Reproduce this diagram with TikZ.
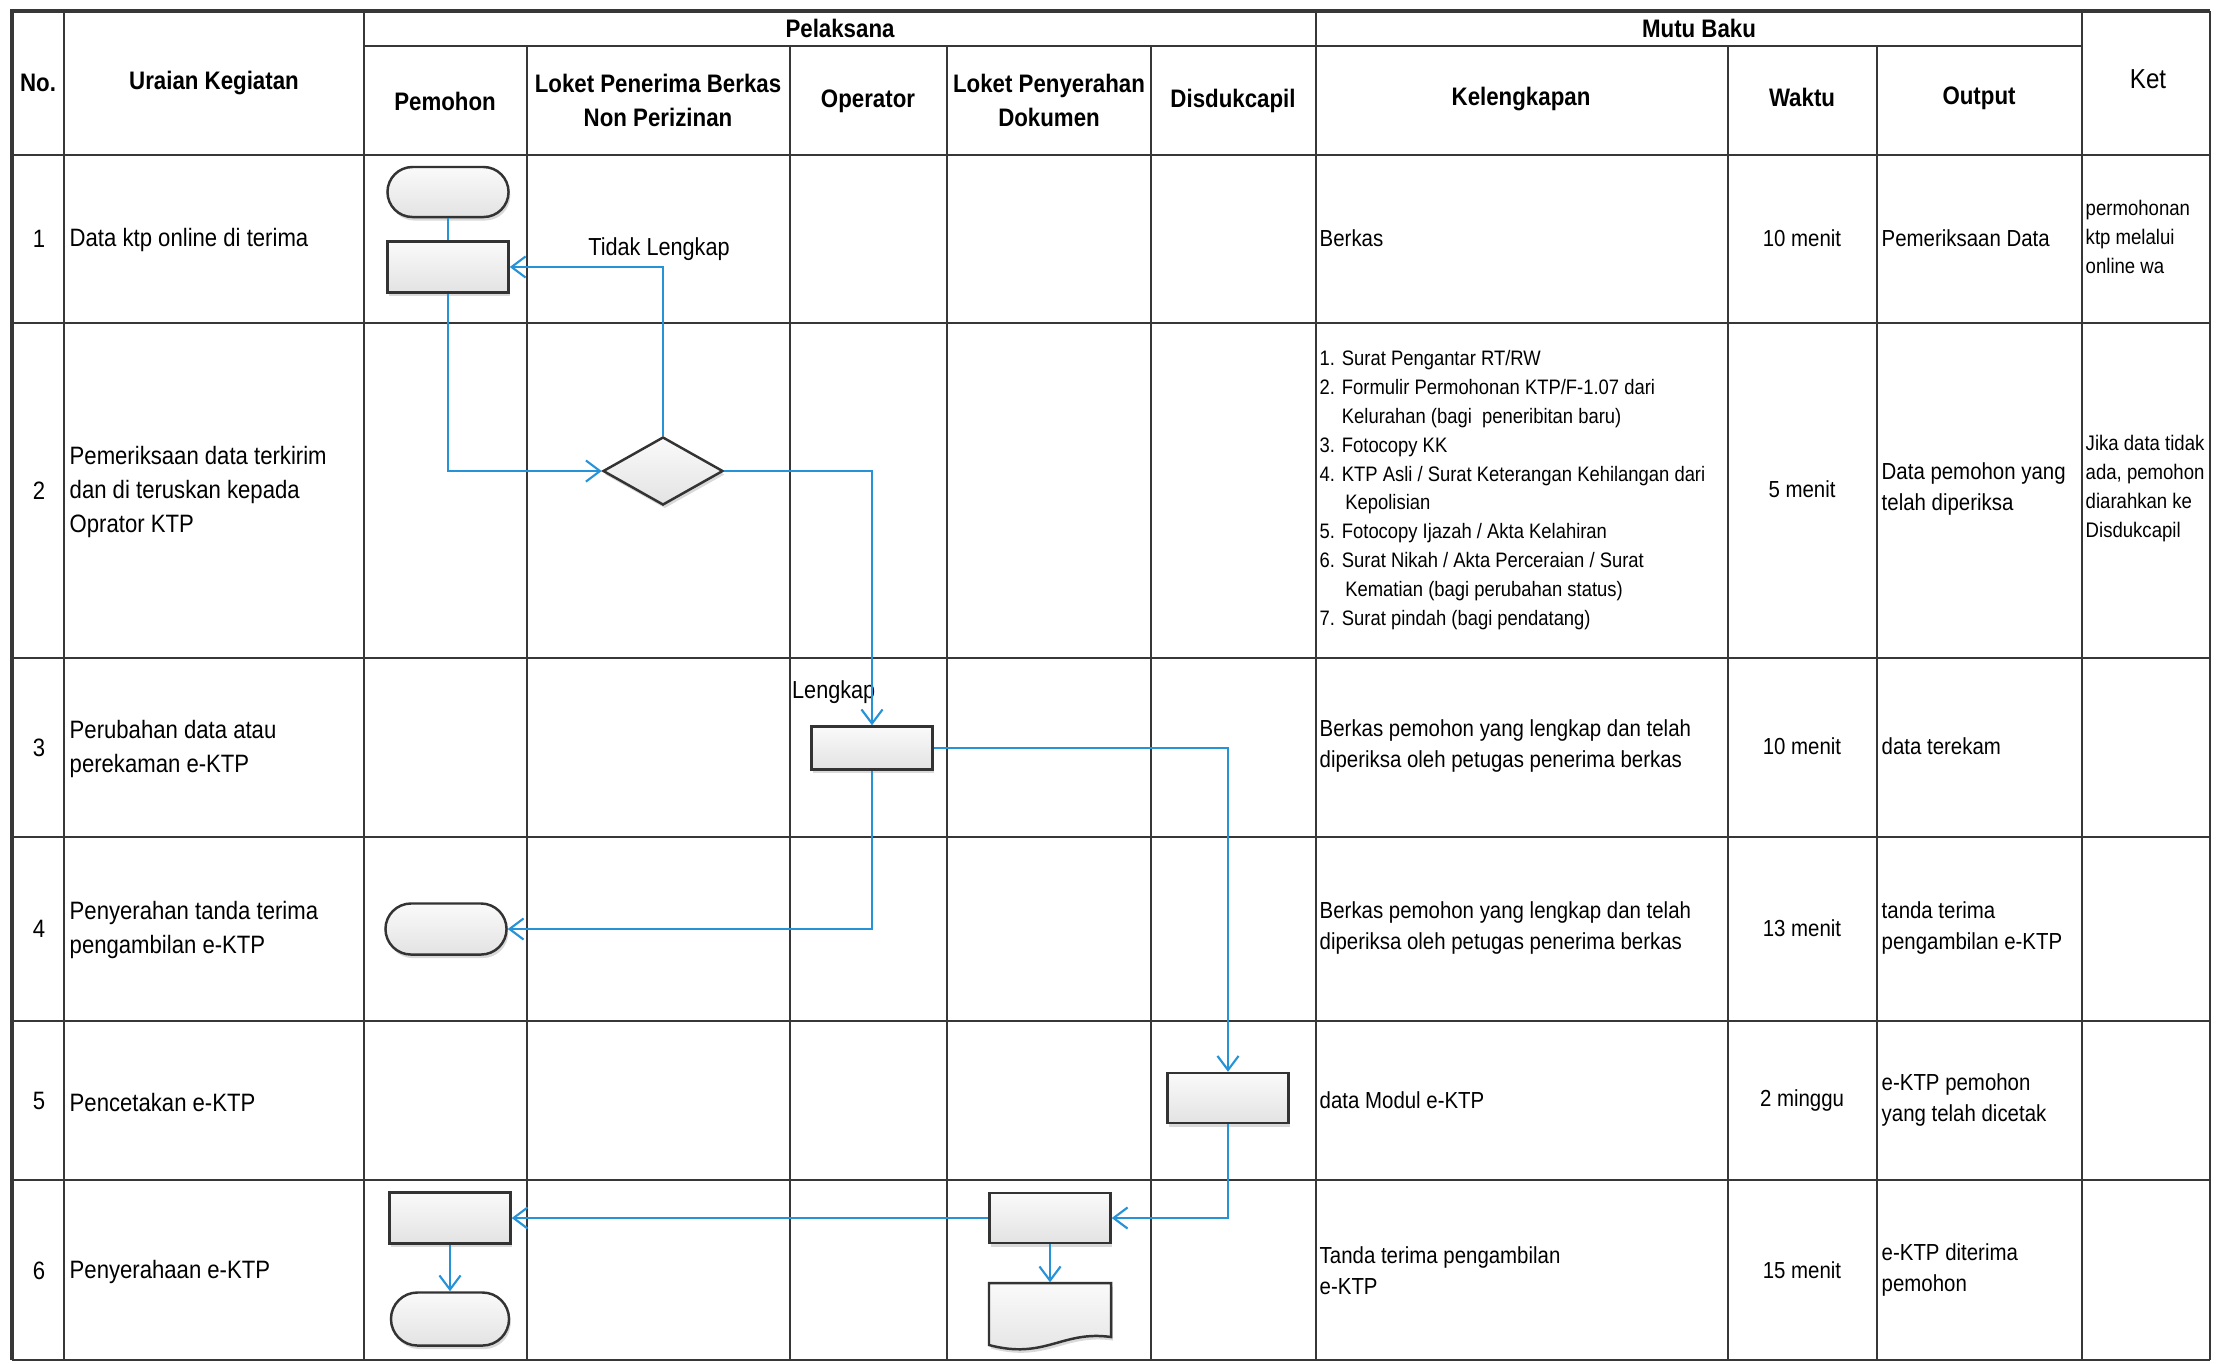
\documentclass[tikz,border=0pt]{standalone}
\usepackage{fontspec}
\setmainfont{Liberation Sans}[FakeStretch=0.88]
\usetikzlibrary{shapes.geometric,shapes.misc,arrows.meta,shadows}
\definecolor{flowblue}{RGB}{38,146,216}
\definecolor{gridgray}{RGB}{55,55,55}
\newcommand{\actfont}{\fontsize{7.15pt}{9.7pt}\selectfont}
\newcommand{\headfont}{\bfseries\fontsize{7.2pt}{9.7pt}\selectfont}
\newcommand{\listfont}{\fontsize{5.95pt}{8.2pt}\selectfont}
\newcommand{\mutufont}{\fontsize{6.6pt}{8.8pt}\selectfont}
\newcommand{\ketfont}{\fontsize{6pt}{8.25pt}\selectfont}
\newcommand{\lblfont}{\fontsize{7pt}{9pt}\selectfont}
\newcommand{\ketheadfont}{\fontsize{7.8pt}{9pt}\selectfont}
\begin{document}
\begin{tikzpicture}[x=0.01cm, y=-0.01cm,
    tabline/.style={draw=gridgray, line width=0.6pt},
    outline/.style={draw=gridgray, line width=1.1pt},
    head/.style={font=\headfont, align=center, inner sep=0pt},
    num/.style={font=\actfont, inner sep=0pt},
    act/.style={font=\actfont, anchor=west, align=left, inner sep=0pt},
    kel/.style={font=\mutufont, anchor=west, align=left, inner sep=0pt},
    kellist/.style={font=\listfont, anchor=west, align=left, inner sep=0pt},
    waktu/.style={font=\mutufont, inner sep=0pt},
    ket/.style={font=\ketfont, anchor=west, align=left, inner sep=0pt},
    lbl/.style={font=\lblfont, inner sep=0pt},
    gfill/.style={draw=black!80, line width=0.7pt, top color=gray!4, bottom color=gray!22,
      drop shadow={opacity=0.3, shadow xshift=0.5pt, shadow yshift=-1pt}},
    box/.style={gfill, inner sep=0pt, minimum width=1.21cm, minimum height=0.5cm},
    proc/.style={box, rectangle},
    term/.style={box, rounded rectangle},
    decision/.style={box, diamond, minimum width=1.2cm, minimum height=0.68cm},
    flow/.style={draw=flowblue, line width=0.6pt},
    flowarr/.style={flow, -{Straight Barb[length=4pt, width=6pt]}}
  ]
  \useasboundingbox (0,0) rectangle (2216,1363);

  \foreach \y in {155,323,658,837,1021,1180,1360}
    \draw[tabline] (12,\y) -- (2210,\y);
  \draw[tabline] (364,46) -- (2082,46);
  \foreach \x in {64,364,1316,2082,2210}
    \draw[tabline] (\x,11) -- (\x,1360);
  \foreach \x in {527,790,947,1151,1728,1877}
    \draw[tabline] (\x,46) -- (\x,1360);
  \draw[outline] (12,1360) -- (12,11) -- (2210,11);

  \node[head] (hno) at (38,83) {No.};
  \node[head] (hura) at (214,83) {Uraian Kegiatan};
  \node[head] (hpel) at (840,28) {Pelaksana};
  \node[head] (hmutu) at (1699,28) {Mutu Baku};
  \node[head, font=\ketheadfont] (hket) at (2148,79) {Ket};
  \node[head] (hpem) at (445,101) {Pemohon};
  \node[head] (hlok) at (658,100) {Loket Penerima Berkas\\Non Perizinan};
  \node[head] (hop) at (868,101) {Operator};
  \node[head] (hpeny) at (1049,100) {Loket Penyerahan\\Dokumen};
  \node[head] (hdis) at (1233,101) {Disdukcapil};
  \node[head] (hkel) at (1521,99) {Kelengkapan};
  \node[head] (hwak) at (1802,97) {Waktu};
  \node[head] (hout) at (1979,98) {Output};

  \node[num] (n1) at (39,239) {1};
  \node[num] (n2) at (39,491) {2};
  \node[num] (n3) at (39,748) {3};
  \node[num] (n4) at (39,929) {4};
  \node[num] (n5) at (39,1101) {5};
  \node[num] (n6) at (39,1271) {6};

  \node[act] (a1) at (69,240) {Data ktp online di terima};
  \node[act] (a2) at (69,492) {Pemeriksaan data terkirim\\dan di teruskan kepada\\Oprator KTP};
  \node[act] (a3) at (69,749) {Perubahan data atau\\perekaman e-KTP};
  \node[act] (a4) at (69,930) {Penyerahan tanda terima\\pengambilan e-KTP};
  \node[act] (a5) at (69,1102) {Pencetakan e-KTP};
  \node[act] (a6) at (69,1272) {Penyerahaan e-KTP};

  \node[kel] (k1) at (1319,238) {Berkas};
  \node[kellist] (k2) at (1319,490) {1. Surat Pengantar RT/RW\\
    2. Formulir Permohonan KTP/F-1.07 dari\\
    \phantom{2. }Kelurahan (bagi\ \ peneribitan baru)\\
    3. Fotocopy KK\\
    4. KTP Asli / Surat Keterangan Kehilangan dari\\
    \phantom{4. }\,Kepolisian\\
    5. Fotocopy Ijazah / Akta Kelahiran\\
    6. Surat Nikah / Akta Perceraian / Surat\\
    \phantom{6. }\,Kematian (bagi perubahan status)\\
    7. Surat pindah (bagi pendatang)};
  \node[kel] (k3) at (1319,746) {Berkas pemohon yang lengkap dan telah\\diperiksa oleh petugas penerima berkas};
  \node[kel] (k4) at (1319,928) {Berkas pemohon yang lengkap dan telah\\diperiksa oleh petugas penerima berkas};
  \node[kel] (k5) at (1319,1100) {data Modul e-KTP};
  \node[kel] (k6) at (1319,1271) {Tanda terima pengambilan\\e-KTP};

  \node[waktu] (w1) at (1802,238) {10 menit};
  \node[waktu] (w2) at (1802,489) {5 menit};
  \node[waktu] (w3) at (1802,746) {10 menit};
  \node[waktu] (w4) at (1802,928) {13 menit};
  \node[waktu] (w5) at (1802,1100) {2 minggu};
  \node[waktu] (w6) at (1802,1270) {15 menit};

  \node[kel] (o1) at (1881,238) {Pemeriksaan Data};
  \node[kel] (o2) at (1881,489) {Data pemohon yang\\telah diperiksa};
  \node[kel] (o3) at (1881,746) {data terekam};
  \node[kel] (o4) at (1881,928) {tanda terima\\pengambilan e-KTP};
  \node[kel] (o5) at (1881,1100) {e-KTP pemohon\\yang telah dicetak};
  \node[kel] (o6) at (1881,1270) {e-KTP diterima\\pemohon};

  \node[ket] (c1) at (2085,237) {permohonan\\ktp melalui\\online wa};
  \node[ket] (c2) at (2085,489) {Jika data tidak\\ada, pemohon\\diarahkan ke\\Disdukcapil};

  \node[term] (t1) at (448,192) {};
  \node[proc, minimum height=0.51cm] (r1) at (448,267) {};
  \node[decision] (dec) at (663,471) {};
  \node[proc, minimum height=0.43cm] (op) at (872,748) {};
  \node[term, minimum height=0.51cm] (t4) at (446,929) {};
  \node[proc] (dis) at (1228,1098) {};
  \node[proc] (lok) at (1050,1218) {};
  \node[proc, minimum height=0.51cm] (r6) at (450,1218) {};
  \node[term, minimum width=1.18cm, minimum height=0.53cm] (t6) at (450,1319) {};
  \node[inner sep=0pt, minimum width=1.21cm, minimum height=0.66cm] (doc) at (1050,1316) {};
  \path[gfill] (989,1283) -- (1111,1283) -- (1111,1337)
    .. controls (1062,1330) and (1045,1360) .. (989,1345) -- cycle;

  \node[lbl] (tl) at (659,249) {Tidak Lengkap};
  \node[lbl, anchor=east] (lk) at (876,692) {Lengkap};

  \draw[flow] (t1.south) -- (r1.north);
  \draw[flowarr] (r1.south) |- (dec.west);
  \draw[flowarr] (dec.north) |- (r1.east);
  \draw[flowarr] (dec.east) -| (op.north);
  \draw[flowarr] (op.east) -| (dis.north);
  \draw[flowarr] (op.south) |- (t4.east);
  \draw[flowarr] (dis.south) |- (lok.east);
  \draw[flowarr] (lok.west) -- (r6.east);
  \draw[flowarr] (r6.south) -- (t6.north);
  \draw[flowarr] (lok.south) -- (doc.north);
\end{tikzpicture}
\end{document}
